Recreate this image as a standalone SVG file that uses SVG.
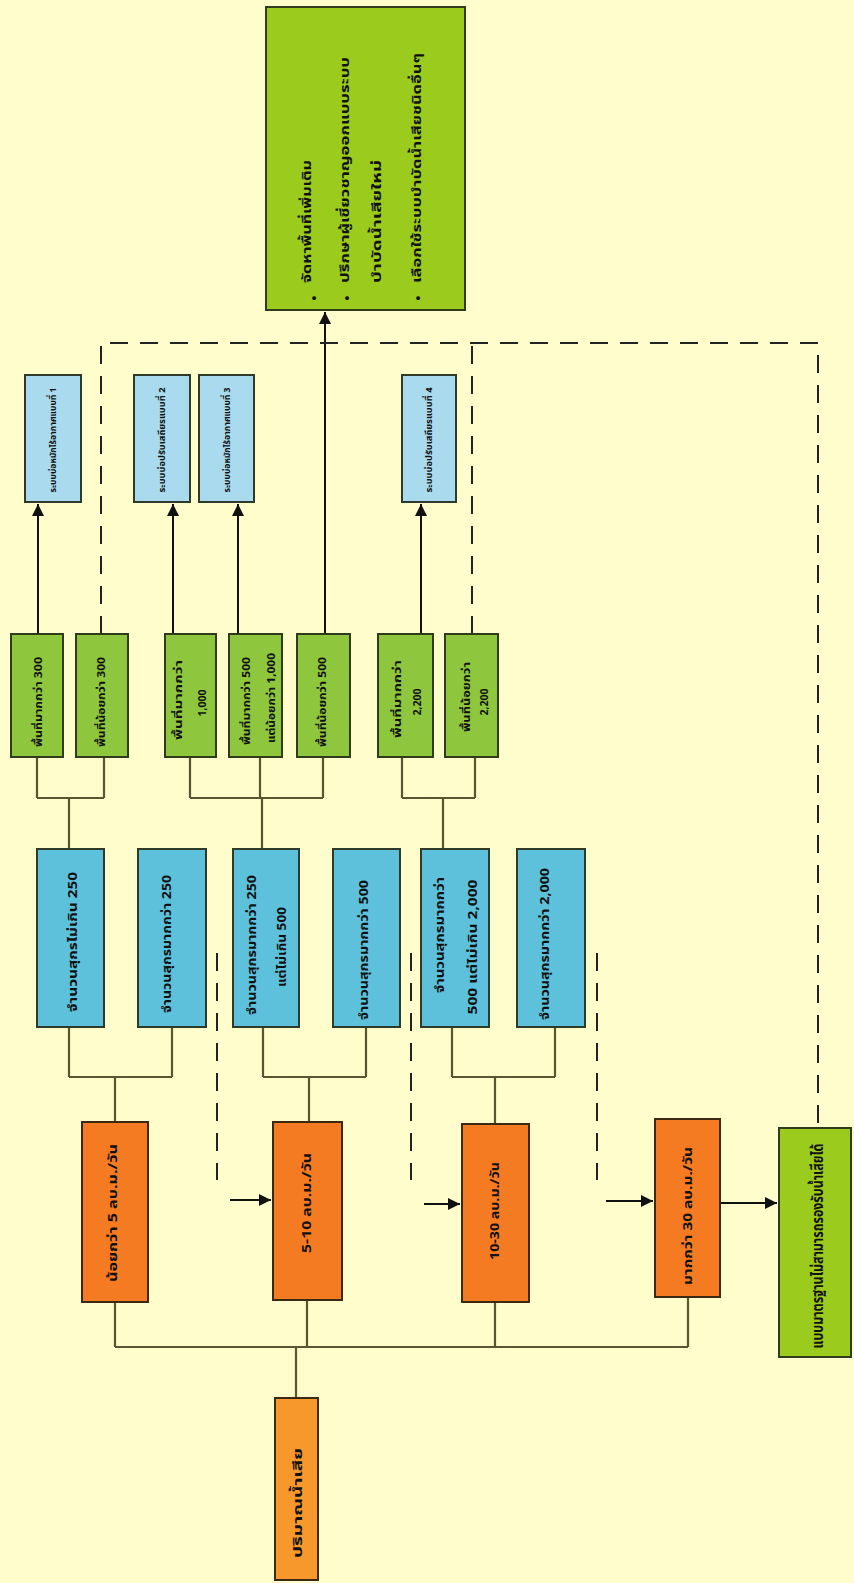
<svg xmlns="http://www.w3.org/2000/svg" width="854" height="1583" viewBox="0 0 854 1583">
<defs>
<marker id="ah" markerWidth="12" markerHeight="12" refX="10" refY="5" orient="auto" markerUnits="userSpaceOnUse" viewBox="0 0 10 10">
<path d="M0,0 L10,5 L0,10 z" fill="#111"/>
</marker>
<style>
text{font-family:"Noto Sans Thai","Noto Sans","DejaVu Sans",sans-serif;font-weight:bold;fill:#111;text-anchor:middle;dominant-baseline:central}
.or{fill:#F47B22;stroke:#3a2a14;stroke-width:2}
.or2{fill:#F7982C;stroke:#3a2a14;stroke-width:2}
.bl{fill:#5EC1DB;stroke:#2f3b2a;stroke-width:2}
.lb{fill:#A9DAEE;stroke:#2f3b2a;stroke-width:2}
.gr{fill:#8EC73D;stroke:#2f3b1a;stroke-width:2}
.gb{fill:#9BCB1D;stroke:#2f3b1a;stroke-width:2}
.ln{fill:none;stroke:#5a5530;stroke-width:2.2}
.ar{fill:none;stroke:#111;stroke-width:2;marker-end:url(#ah)}
.ds{fill:none;stroke:#222;stroke-width:2;stroke-dasharray:18 12}
.t13{font-size:13px}.t12{font-size:12px}.t10{font-size:10.5px}.t9{font-size:9.5px}.t15{font-size:15px}
</style>
</defs>
<rect width="854" height="1583" fill="#FFFDCB"/>

<g id="connectors">
<path class="ln" d="M296,1398V1347M115,1347H688M115,1302V1347M307,1300V1347M495,1302V1347M688,1297V1347"/>
<path class="ln" d="M115,1122V1077M69,1077H172M69,1027V1077M172,1027V1077"/>
<path class="ln" d="M309,1122V1077M263,1077H366M263,1027V1077M366,1027V1077"/>
<path class="ln" d="M495,1124V1077M452,1077H555M452,1027V1077M555,1027V1077"/>
<path class="ln" d="M69,849V798M37,798H104M37,757V798M104,757V798"/>
<path class="ln" d="M262,849V798M190,798H323M190,757V798M260,757V798M323,757V798"/>
<path class="ln" d="M443,849V798M402,798H475M402,757V798M475,757V798"/>
<path class="ar" d="M38,634V504"/>
<path class="ar" d="M173,634V504"/>
<path class="ar" d="M238,634V504"/>
<path class="ar" d="M421,634V504"/>
<path class="ar" d="M325,634V312"/>
<path class="ds" d="M101,634V343H818V1126"/>
<path class="ds" d="M472,634V343"/>
<path class="ds" d="M217,953V1180"/>
<path class="ds" d="M411,953V1180"/>
<path class="ds" d="M597,953V1180"/>
<path class="ar" d="M230,1200H271"/>
<path class="ar" d="M424,1204H460"/>
<path class="ar" d="M606,1201H653"/>
<path class="ar" d="M720,1203H777"/>
</g>

<g id="n-volume"><rect class="or2" x="275" y="1398" width="43" height="182"/>
<text class="t13" textLength="110" lengthAdjust="spacingAndGlyphs" transform="translate(298,1503) rotate(-90)">ปริมาณน้ำเสีย</text></g>

<g id="n-o1"><rect class="or" x="82" y="1122" width="66" height="180"/>
<text class="t13" textLength="138" lengthAdjust="spacingAndGlyphs" transform="translate(113,1213) rotate(-90)">น้อยกว่า 5 ลบ.ม./วัน</text></g>
<g id="n-o2"><rect class="or" x="273" y="1122" width="69" height="178"/>
<text class="t13" textLength="100" lengthAdjust="spacingAndGlyphs" transform="translate(307,1203) rotate(-90)">5-10 ลบ.ม./วัน</text></g>
<g id="n-o3"><rect class="or" x="462" y="1124" width="67" height="178"/>
<text class="t13" textLength="98" lengthAdjust="spacingAndGlyphs" transform="translate(495,1211) rotate(-90)">10-30 ลบ.ม./วัน</text></g>
<g id="n-o4"><rect class="or" x="655" y="1119" width="65" height="178"/>
<text class="t13" textLength="138" lengthAdjust="spacingAndGlyphs" transform="translate(688,1216) rotate(-90)">มากกว่า 30 ลบ.ม./วัน</text></g>

<g id="n-fail"><rect class="gb" x="779" y="1128" width="72" height="229"/>
<text class="t15" textLength="205" lengthAdjust="spacingAndGlyphs" transform="translate(818,1246) rotate(-90)">แบบมาตรฐานไม่สามารถรองรับน้ำเสียได้</text></g>

<g id="n-b1"><rect class="bl" x="37" y="849" width="67" height="178"/>
<text class="t12" textLength="140" lengthAdjust="spacingAndGlyphs" transform="translate(73,942) rotate(-90)">จำนวนสุกรไม่เกิน 250</text></g>
<g id="n-b2"><rect class="bl" x="138" y="849" width="68" height="178"/>
<text class="t12" textLength="138" lengthAdjust="spacingAndGlyphs" transform="translate(167,944) rotate(-90)">จำนวนสุกรมากกว่า 250</text></g>
<g id="n-b3"><rect class="bl" x="233" y="849" width="66" height="178"/>
<text class="t12" textLength="140" lengthAdjust="spacingAndGlyphs" transform="translate(252,945) rotate(-90)">จำนวนสุกรมากกว่า 250</text>
<text class="t12" textLength="80" lengthAdjust="spacingAndGlyphs" transform="translate(282,947) rotate(-90)">แต่ไม่เกิน 500</text></g>
<g id="n-b4"><rect class="bl" x="333" y="849" width="67" height="178"/>
<text class="t12" textLength="140" lengthAdjust="spacingAndGlyphs" transform="translate(364,950) rotate(-90)">จำนวนสุกรมากกว่า 500</text></g>
<g id="n-b5"><rect class="bl" x="421" y="849" width="68" height="178"/>
<text class="t12" textLength="116" lengthAdjust="spacingAndGlyphs" transform="translate(440,935) rotate(-90)">จำนวนสุกรมากกว่า</text>
<text class="t12" textLength="135" lengthAdjust="spacingAndGlyphs" transform="translate(473,947) rotate(-90)">500  แต่ไม่เกิน 2,000</text></g>
<g id="n-b6"><rect class="bl" x="517" y="849" width="68" height="178"/>
<text class="t12" textLength="152" lengthAdjust="spacingAndGlyphs" transform="translate(545,944) rotate(-90)">จำนวนสุกรมากกว่า 2,000</text></g>

<g id="n-g1"><rect class="gr" x="11" y="634" width="52" height="123"/>
<text class="t10" textLength="90" lengthAdjust="spacingAndGlyphs" transform="translate(39,702) rotate(-90)">พื้นที่มากกว่า 300</text></g>
<g id="n-g2"><rect class="gr" x="76" y="634" width="52" height="123"/>
<text class="t10" textLength="90" lengthAdjust="spacingAndGlyphs" transform="translate(102,702) rotate(-90)">พื้นที่น้อยกว่า 300</text></g>
<g id="n-g3"><rect class="gr" x="165" y="634" width="51" height="123"/>
<text class="t10" textLength="80" lengthAdjust="spacingAndGlyphs" transform="translate(179,700) rotate(-90)">พื้นที่มากกว่า</text>
<text class="t10" transform="translate(203,703) rotate(-90)">1,000</text></g>
<g id="n-g4"><rect class="gr" x="229" y="634" width="53" height="123"/>
<text class="t10" textLength="88" lengthAdjust="spacingAndGlyphs" transform="translate(247,701) rotate(-90)">พื้นที่มากกว่า 500</text>
<text class="t10" textLength="90" lengthAdjust="spacingAndGlyphs" transform="translate(272,698) rotate(-90)">แต่น้อยกว่า 1,000</text></g>
<g id="n-g5"><rect class="gr" x="297" y="634" width="53" height="123"/>
<text class="t10" textLength="90" lengthAdjust="spacingAndGlyphs" transform="translate(323,702) rotate(-90)">พื้นที่น้อยกว่า 500</text></g>
<g id="n-g6"><rect class="gr" x="378" y="634" width="55" height="123"/>
<text class="t10" textLength="78" lengthAdjust="spacingAndGlyphs" transform="translate(398,699) rotate(-90)">พื้นที่มากกว่า</text>
<text class="t10" transform="translate(418,702) rotate(-90)">2,200</text></g>
<g id="n-g7"><rect class="gr" x="445" y="634" width="53" height="123"/>
<text class="t10" textLength="70" lengthAdjust="spacingAndGlyphs" transform="translate(467,697) rotate(-90)">พื้นที่น้อยกว่า</text>
<text class="t10" transform="translate(485,702) rotate(-90)">2,200</text></g>

<g id="n-s1"><rect class="lb" x="25" y="375" width="56" height="127"/>
<text class="t9" textLength="105" lengthAdjust="spacingAndGlyphs" transform="translate(53,440) rotate(-90)">ระบบบ่อหมักไร้อากาศแบบที่ 1</text></g>
<g id="n-s2"><rect class="lb" x="134" y="375" width="56" height="127"/>
<text class="t9" textLength="105" lengthAdjust="spacingAndGlyphs" transform="translate(162,440) rotate(-90)">ระบบบ่อปรับเสถียรแบบที่ 2</text></g>
<g id="n-s3"><rect class="lb" x="199" y="375" width="55" height="127"/>
<text class="t9" textLength="105" lengthAdjust="spacingAndGlyphs" transform="translate(227,440) rotate(-90)">ระบบบ่อหมักไร้อากาศแบบที่ 3</text></g>
<g id="n-s4"><rect class="lb" x="402" y="375" width="54" height="127"/>
<text class="t9" textLength="105" lengthAdjust="spacingAndGlyphs" transform="translate(429,440) rotate(-90)">ระบบบ่อปรับเสถียรแบบที่ 4</text></g>

<g id="n-options"><rect class="gb" x="266" y="7" width="199" height="303"/>
<text class="t13" transform="translate(315,298) rotate(-90)">•</text>
<text class="t13" transform="translate(348,298) rotate(-90)">•</text>
<text class="t13" transform="translate(419,298) rotate(-90)">•</text>
<text class="t13" style="text-anchor:start" textLength="123" lengthAdjust="spacingAndGlyphs" transform="translate(307,283) rotate(-90)">จัดหาพื้นที่เพิ่มเติม</text>
<text class="t13" style="text-anchor:start" textLength="226" lengthAdjust="spacingAndGlyphs" transform="translate(345,283) rotate(-90)">ปรึกษาผู้เชี่ยวชาญออกแบบระบบ</text>
<text class="t13" style="text-anchor:start" textLength="123" lengthAdjust="spacingAndGlyphs" transform="translate(377,283) rotate(-90)">บำบัดน้ำเสียใหม่</text>
<text class="t13" style="text-anchor:start" textLength="230" lengthAdjust="spacingAndGlyphs" transform="translate(417,283) rotate(-90)">เลือกใช้ระบบบำบัดน้ำเสียชนิดอื่นๆ</text>
</g>
</svg>
